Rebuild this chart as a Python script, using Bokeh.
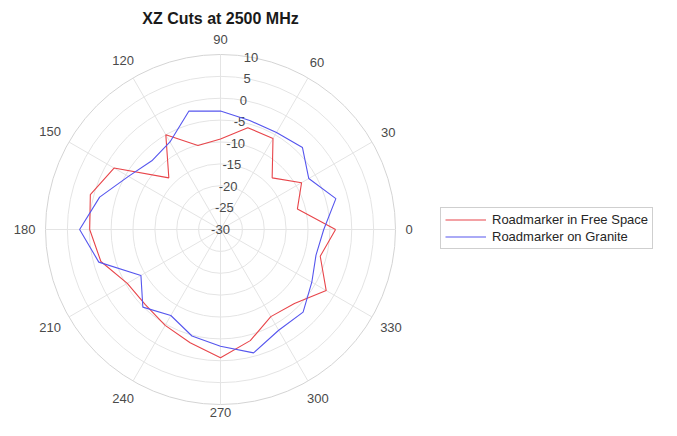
import math
from bokeh.plotting import figure
from bokeh.models import Range1d, Legend, LegendItem
from bokeh.core.properties import value
from bokeh.embed import file_html
from bokeh.resources import INLINE

# ---------------- data ----------------
angles_deg = [0, 15, 30, 45, 60, 75, 90, 105, 120, 135, 150, 165,
              180, 195, 210, 225, 240, 255, 270, 285, 300, 315, 330, 345]
free_space_db = [-3.7, -11.8, -8.6, -13.3, -6.0, -5.9, -9.3, -10.1, -5.0, -13.3, -1.9, 0.8,
                 -0.1, -1.7, -5.4, -5.7, -4.7, -3.2, -0.7, -3.7, -7.0, -6.1, -2.1, -6.4]
granite_db = [-6.4, -2.7, -6.7, -3.5, -4.4, -4.2, -2.9, -2.0, -6.9, -7.8, -5.7, -1.4,
              2.2, -1.2, -9.0, -4.9, -7.3, -4.8, -3.3, -0.8, -3.4, -3.3, -5.9, -7.4]
r_ticks = [-30, -25, -20, -15, -10, -5, 0, 5, 10]
theta_ticks = [0, 30, 60, 90, 120, 150, 180, 210, 240, 270, 300, 330]
series_names = ["Roadmarker in Free Space", "Roadmarker on Granite"]
title_text = "XZ Cuts at 2500 MHz"

# ---------------- layout ----------------
R_MIN, R_MAX = r_ticks[0], r_ticks[-1]
W, H = 661, 420
CX, CY = 220, 229          # polar centre in figure pixels
R_PX = 175.0               # outer circle radius in pixels
S = R_PX / (R_MAX - R_MIN) # pixels per data unit
FONT = "Liberation Sans"

p = figure(width=W, height=H,
           x_range=Range1d(-CX / S, (W - CX) / S),
           y_range=Range1d(-(H - CY) / S, CY / S),
           x_axis_type=None, y_axis_type=None,
           output_backend="svg", toolbar_location=None, min_border=0)
p.outline_line_color = None
p.background_fill_color = "white"
p.border_fill_color = "white"

RMAX = R_MAX - R_MIN

# rings
ring_r = [v - R_MIN for v in r_ticks[1:-1]]
p.circle(x=[0] * len(ring_r), y=[0] * len(ring_r), radius=ring_r,
         fill_color=None, line_color="#e4e4e4", line_width=1)
p.circle(x=[0], y=[0], radius=[RMAX], fill_color=None, line_color="#d4d4d4", line_width=1)

# spokes
sx = [RMAX * math.cos(math.radians(t)) for t in theta_ticks]
sy = [RMAX * math.sin(math.radians(t)) for t in theta_ticks]
p.segment(x0=[0] * len(sx), y0=[0] * len(sy), x1=sx, y1=sy, line_color="#e4e4e4", line_width=1)

# angle labels
lx, ly, lt = [], [], []
ymin_label = -(H - CY - 8) / S   # keep bottom label inside the figure
for t in theta_ticks:
    lab = str(t)
    c, s_ = math.cos(math.radians(t)), math.sin(math.radians(t))
    ext = abs(c) * len(lab) * 7.2 / 2 + abs(s_) * 10 / 2
    rr = (185 + ext) / S
    lx.append(rr * c); ly.append(max(rr * s_, ymin_label)); lt.append(lab)
p.text(x=lx, y=ly, text=lt, text_align="center", text_baseline="middle",
       text_font=value(FONT), text_font_size="13px", text_color="#4a4a4a")

# radial labels along 80 degrees
ra = math.radians(80)
rx = [(v - R_MIN) * math.cos(ra) for v in r_ticks]
ry = [(v - R_MIN) * math.sin(ra) for v in r_ticks]
p.text(x=rx, y=ry, text=[str(v) for v in r_ticks], text_align="center", text_baseline="middle",
       text_font=value(FONT), text_font_size="13px", text_color="#4a4a4a")

# title
p.text(x=[0], y=[(CY - 18) / S], text=[title_text], text_align="center", text_baseline="middle",
       text_font=value(FONT), text_font_size="16px", text_font_style="bold", text_color="#1a1a1a")

# curves
def to_xy(db_list):
    xs, ys = [], []
    for a, d in zip(angles_deg + [angles_deg[0]], db_list + [db_list[0]]):
        r = max(d - R_MIN, 0)
        xs.append(r * math.cos(math.radians(a)))
        ys.append(r * math.sin(math.radians(a)))
    return xs, ys

fx, fy = to_xy(free_space_db)
gx, gy = to_xy(granite_db)
r1 = p.line(fx, fy, line_color="#e8454a", line_width=1.1)
r2 = p.line(gx, gy, line_color="#5656ee", line_width=1.1)

legend = Legend(items=[LegendItem(label=series_names[0], renderers=[r1]),
                       LegendItem(label=series_names[1], renderers=[r2])],
                location=(440, 171), orientation="vertical",
                border_line_color="#a0a0a0", border_line_width=1,
                background_fill_color="white", background_fill_alpha=1,
                label_text_font=FONT, label_text_font_size="13px", label_text_color="#262626",
                glyph_width=41, glyph_height=15, label_height=15, spacing=2,
                padding=4, margin=0, label_standoff=6)
p.add_layout(legend)

open("out.html", "w").write(file_html(p, INLINE))
